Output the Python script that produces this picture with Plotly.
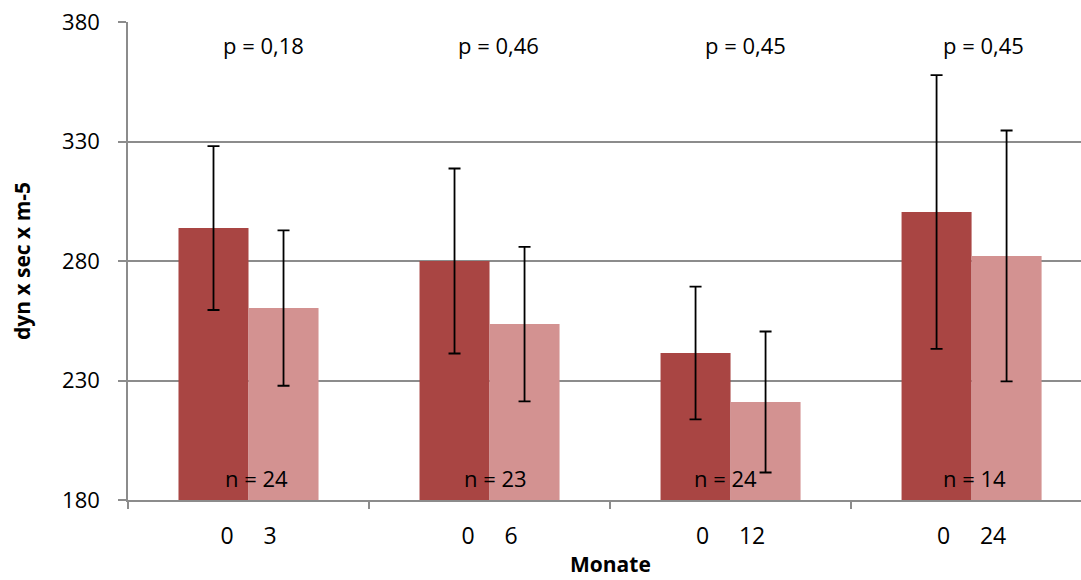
import plotly.graph_objects as go

groups = ["0     3", "0     6", "0     12", "0     24"]
baseline = [293.8, 280.0, 241.5, 300.5]
followup = [260.3, 253.6, 221.0, 282.1]
baseline_sd = [34.3, 38.7, 27.8, 57.3]
followup_sd = [32.5, 32.3, 29.5, 52.5]
p_labels = ["p = 0,18", "p = 0,46", "p = 0,45", "p = 0,45"]
n_labels = ["n = 24", "n = 23", "n = 24", "n = 14"]

xpos = list(range(len(groups)))
FONT = "Open Sans"
DARK = "#A94543"
LIGHT = "#D39291"
GRID = "#8C8C8C"

fig = go.Figure()
fig.add_trace(go.Bar(
    x=xpos, y=baseline, marker=dict(color=DARK, line=dict(width=0)),
    error_y=dict(type="data", array=baseline_sd, visible=True,
                 color="black", thickness=1.8, width=6),
    showlegend=False,
))
fig.add_trace(go.Bar(
    x=xpos, y=followup, marker=dict(color=LIGHT, line=dict(width=0)),
    error_y=dict(type="data", array=followup_sd, visible=True,
                 color="black", thickness=1.8, width=6),
    showlegend=False,
))

p_off = [0.064, 0.037, 0.062, 0.048]
n_off = [0.035, 0.023, -0.022, 0.013]
for i in xpos:
    fig.add_annotation(x=i + p_off[i], y=370.3, text=p_labels[i], showarrow=False,
                       xref="x", yref="y", font=dict(family=FONT, size=22, color="black"))
    fig.add_annotation(x=i + n_off[i], y=189.2, text=n_labels[i], showarrow=False,
                       xref="x", yref="y", font=dict(family=FONT, size=22, color="black"))

fig.add_annotation(x=0.506, y=0, xref="paper", yref="paper", yshift=-64,
                   text="<b>Monate</b>", showarrow=False, yanchor="middle",
                   font=dict(family=FONT, size=21, color="black"))

fig.update_layout(
    width=1081, height=580,
    margin=dict(l=128, r=0, t=22, b=80),
    paper_bgcolor="white", plot_bgcolor="white",
    barmode="group", bargap=0.419, bargroupgap=0,
    font=dict(family=FONT, size=22, color="black"),
    xaxis=dict(
        range=[-0.5, 3.454], tickmode="array", tickvals=xpos, ticktext=groups,
        ticks="", showgrid=False, zeroline=False,
        showline=True, linecolor=GRID, linewidth=1.5,
        ticklabelstandoff=15,
        tickfont=dict(family=FONT, size=23, color="black"),
        minor=dict(tick0=-0.5, dtick=1, ticks="outside", ticklen=7,
                   tickcolor=GRID, tickwidth=1.5, showgrid=False),
    ),
    yaxis=dict(
        range=[180, 380], tickmode="array", tickvals=[180, 230, 280, 330, 380],
        ticks="outside", ticklen=8, tickcolor=GRID, tickwidth=1.5,
        showgrid=True, gridcolor=GRID, gridwidth=1.5, zeroline=False,
        showline=True, linecolor=GRID, linewidth=1.5,
        ticklabelstandoff=14,
        tickfont=dict(family=FONT, size=22, color="black"),
        title=dict(text="<b>dyn x sec x m-5</b>", standoff=26,
                   font=dict(family=FONT, size=21, color="black")),
    ),
)

fig.write_html("out.html")
